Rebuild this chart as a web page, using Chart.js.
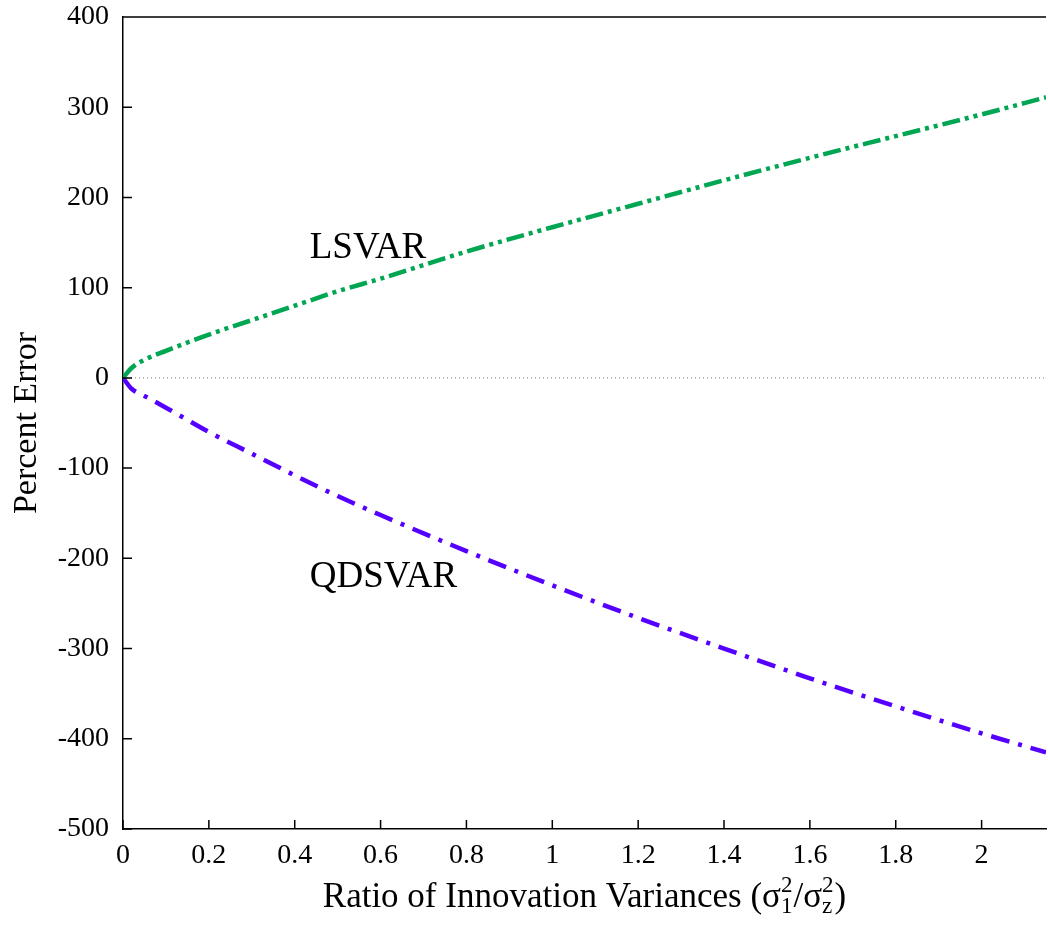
<!DOCTYPE html>
<html>
<head>
<meta charset="utf-8">
<script src="https://cdn.jsdelivr.net/npm/chart.js@4/dist/chart.umd.min.js"></script>
<style>
  html, body { margin: 0; padding: 0; background: #fff; }
  #wrap { width: 1048px; height: 926px; }
</style>
</head>
<body>
<div id="wrap"><canvas id="chart" width="1048" height="926"></canvas></div>
<script>
// values
const ratio = [0, 0.02, 0.05, 0.1, 0.2, 0.3, 0.4, 0.5, 0.6, 0.8, 1.0, 1.2, 1.4, 1.6, 1.8, 2.0, 2.15];
const lsvar = [0, 11, 20, 30, 48, 64, 80, 96, 110, 140, 167, 193, 219, 244, 268, 292, 311];
const qdsvar = [0, -12, -20, -33, -60, -84, -108, -131, -152, -192, -230, -266, -300, -333, -364, -394, -415];
const zeroX = [0, 2.15];
const zeroY = [0, 0];
const xTicks = [0, 0.2, 0.4, 0.6, 0.8, 1, 1.2, 1.4, 1.6, 1.8, 2];
const yTicks = [-500, -400, -300, -200, -100, 0, 100, 200, 300, 400];

const serif = '"Liberation Serif", "DejaVu Serif", serif';
const toPoints = (xs, ys) => xs.map((x, i) => ({ x, y: ys[i] }));

// curve names, placed in data space
const curveLabels = [
  { text: 'LSVAR', x: 0.435, y: 133 },
  { text: 'QDSVAR', x: 0.435, y: -232 }
];

// gnuplot look: inward ticks, top border, labels and titles
const framePlugin = {
  id: 'frame',
  afterDatasetsDraw(chart) {
    const { ctx, chartArea: area, scales: { x, y } } = chart;
    ctx.save();
    ctx.strokeStyle = '#000';
    ctx.lineWidth = 1.5;
    ctx.beginPath();
    ctx.moveTo(area.left, area.top);
    ctx.lineTo(area.right, area.top);
    x.ticks.forEach(t => {
      const px = x.getPixelForValue(t.value);
      ctx.moveTo(px, area.bottom);
      ctx.lineTo(px, area.bottom - 9);
    });
    y.ticks.forEach(t => {
      const py = y.getPixelForValue(t.value);
      ctx.moveTo(area.left, py);
      ctx.lineTo(area.left + 9, py);
    });
    ctx.stroke();

    ctx.fillStyle = '#000';
    ctx.font = '37px ' + serif;
    ctx.textAlign = 'left';
    ctx.textBaseline = 'alphabetic';
    curveLabels.forEach(l => {
      ctx.fillText(l.text, x.getPixelForValue(l.x), y.getPixelForValue(l.y));
    });

    // y title
    ctx.save();
    ctx.translate(27, (area.top + area.bottom) / 2);
    ctx.rotate(-Math.PI / 2);
    ctx.textAlign = 'center';
    ctx.textBaseline = 'middle';
    ctx.font = '34px ' + serif;
    ctx.fillText('Percent Error', 0, 0);
    ctx.restore();

    // x title with stacked super/subscripts
    const big = '35px ' + serif;
    const small = '23px ' + serif;
    const parts = [
      { t: 'Ratio of Innovation Variances (σ', f: big },
      { sup: '2', sub: '1' },
      { t: '/σ', f: big },
      { sup: '2', sub: 'z' },
      { t: ')', f: big }
    ];
    const widthOf = p => {
      if (p.t) { ctx.font = p.f; return ctx.measureText(p.t).width; }
      ctx.font = small;
      return Math.max(ctx.measureText(p.sup).width, ctx.measureText(p.sub).width) + 1;
    };
    const total = parts.reduce((s, p) => s + widthOf(p), 0);
    let cx = (area.left + area.right) / 2 - total / 2;
    const base = 907;
    ctx.textAlign = 'left';
    ctx.textBaseline = 'alphabetic';
    parts.forEach(p => {
      const w = widthOf(p);
      if (p.t) {
        ctx.font = p.f;
        ctx.fillText(p.t, cx, base);
      } else {
        ctx.font = small;
        ctx.fillText(p.sup, cx, base - 15);
        ctx.fillText(p.sub, cx, base + 6);
      }
      cx += w;
    });
    ctx.restore();
  }
};

new Chart(document.getElementById('chart').getContext('2d'), {
  type: 'line',
  data: {
    datasets: [
      {
        label: 'zero',
        data: toPoints(zeroX, zeroY),
        borderColor: '#777',
        borderWidth: 1,
        borderDash: [1, 3],
        pointRadius: 0
      },
      {
        label: 'LSVAR',
        data: toPoints(ratio, lsvar),
        borderColor: '#00a651',
        borderWidth: 4.5,
        borderDash: [18, 5, 4, 5, 4, 5],
        borderCapStyle: 'butt',
        cubicInterpolationMode: 'monotone',
        pointRadius: 0
      },
      {
        label: 'QDSVAR',
        data: toPoints(ratio, qdsvar),
        borderColor: '#5500ff',
        borderWidth: 4.5,
        borderDash: [19, 9, 4, 9],
        borderCapStyle: 'butt',
        cubicInterpolationMode: 'monotone',
        pointRadius: 0
      }
    ]
  },
  options: {
    responsive: false,
    animation: false,
    layout: { padding: { top: 17, right: 2, left: 0, bottom: 0 } },
    plugins: { legend: { display: false }, tooltip: { enabled: false } },
    scales: {
      x: {
        type: 'linear',
        min: 0,
        max: 2.15,
        afterFit: s => { s.height = 97; s.paddingLeft = 0; s.paddingRight = 0; },
        afterBuildTicks: s => { s.ticks = xTicks.map(v => ({ value: v })); },
        grid: { display: false, drawTicks: false },
        border: { display: true, color: '#000', width: 1.5 },
        ticks: {
          padding: 10,
          color: '#000',
          font: { family: serif, size: 28 },
          maxRotation: 0,
          callback: v => String(+Number(v).toFixed(1))
        }
      },
      y: {
        type: 'linear',
        min: -500,
        max: 400,
        afterFit: s => { s.width = 123; s.paddingTop = 0; s.paddingBottom = 0; },
        afterBuildTicks: s => { s.ticks = yTicks.map(v => ({ value: v })); },
        grid: { display: false, drawTicks: false },
        border: { display: true, color: '#000', width: 1.5 },
        ticks: {
          padding: 14,
          color: '#000',
          font: { family: serif, size: 28 },
          callback: v => String(v)
        }
      }
    }
  },
  plugins: [framePlugin]
});
</script>
</body>
</html>
